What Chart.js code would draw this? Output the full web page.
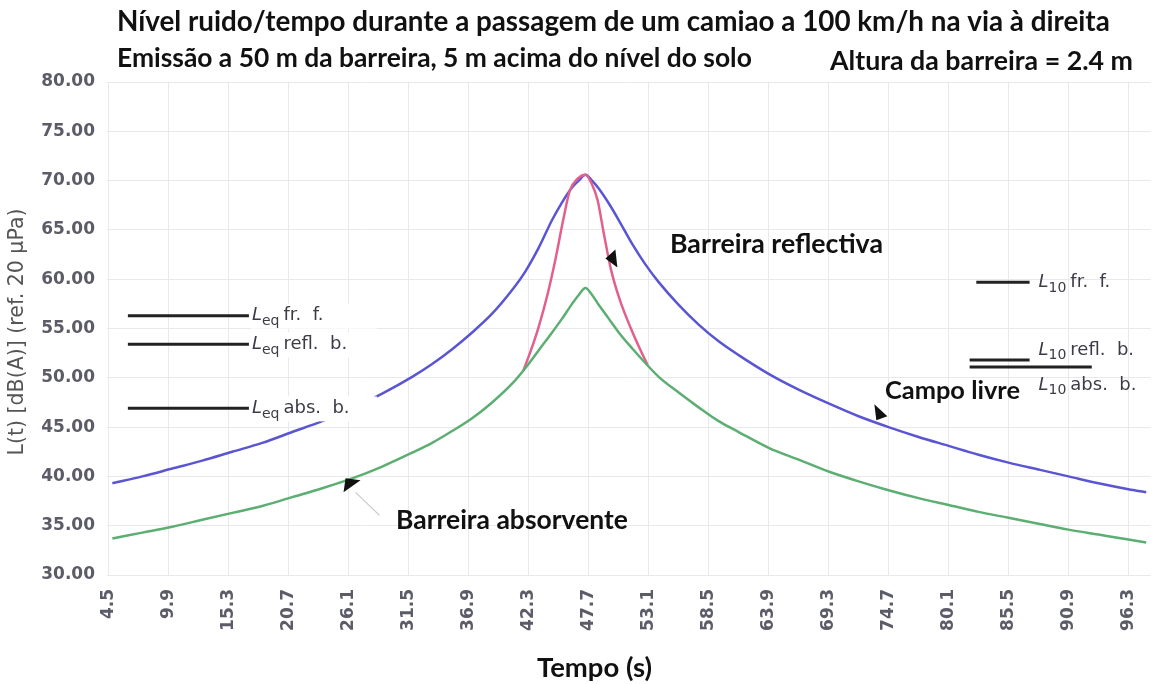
<!DOCTYPE html>
<html>
<head>
<meta charset="utf-8">
<script src="https://cdn.jsdelivr.net/npm/chart.js@4.4.1/dist/chart.umd.min.js"></script>
<style>
  html, body { margin: 0; padding: 0; background: #fff; }
</style>
</head>
<body>
<canvas id="chart-area" width="1163" height="684"></canvas>
<script>
// valores (tempo em s, niveis em dB(A))
var tempo = [4.8, 7.5, 10.2, 12.9, 15.6, 18.3, 21.0, 23.7, 26.4, 29.1,
             31.8, 33.6, 35.4, 37.2, 39.0, 40.8, 42.0, 43.2, 44.4, 45.3,
             46.2, 46.8, 47.4, 48.0, 48.6, 49.5, 50.4, 51.6, 52.8, 54.0,
             55.8, 57.6, 59.4, 61.2, 63.9, 66.6, 69.3, 72.0, 74.7, 77.4,
             80.1, 82.8, 85.5, 88.2, 90.9, 93.6, 96.3, 97.9];

var campoLivre = [39.3, 40.0, 40.8, 41.6, 42.5, 43.4, 44.5, 45.6, 46.9, 48.4,
                  50.1, 51.4, 52.9, 54.6, 56.5, 58.9, 60.8, 63.2, 66.0, 67.8,
                  69.3, 70.0, 70.6, 70.0, 69.2, 67.7, 66.0, 63.6, 61.5, 59.7,
                  57.4, 55.4, 53.7, 52.3, 50.4, 48.8, 47.4, 46.1, 45.0, 44.0,
                  43.1, 42.2, 41.4, 40.7, 40.0, 39.3, 38.7, 38.4];

var barreiraAbsorvente = [33.7, 34.3, 34.9, 35.6, 36.3, 37.0, 37.9, 38.8, 39.8, 41.0,
                          42.4, 43.4, 44.6, 45.9, 47.5, 49.4, 51.0, 52.8, 54.6, 56.0,
                          57.5, 58.4, 59.1, 58.4, 57.4, 56.0, 54.6, 53.0, 51.5, 50.1,
                          48.5, 47.0, 45.6, 44.5, 42.9, 41.7, 40.5, 39.5, 38.6, 37.8,
                          37.1, 36.4, 35.8, 35.2, 34.6, 34.1, 33.6, 33.3];

var tempoRefl = [41.8, 42.5, 43.2, 44.0, 44.7, 45.4, 46.0, 46.7, 47.4, 48.0,
                 48.5, 49.0, 49.7, 50.5, 51.5, 52.2, 53.0];
var barreiraReflectiva = [50.7, 52.8, 55.2, 58.5, 62.0, 66.0, 69.0, 70.2, 70.6, 69.6,
                          68.0, 65.0, 61.0, 57.9, 55.0, 53.2, 51.3];

var xTicks = [4.5, 9.9, 15.3, 20.7, 26.1, 31.5, 36.9, 42.3, 47.7, 53.1,
              58.5, 63.9, 69.3, 74.7, 80.1, 85.5, 90.9, 96.3];

// niveis equivalentes (esquerda) e L10 (direita)
var leqNomes = ["fr. f.", "refl. b.", "abs. b."];
var leqValores = [56.3, 53.4, 46.9];
var leqTempo = [6.2, 17.1];

var l10Nomes = ["fr. f.", "refl. b.", "abs. b."];
var l10Valores = [59.7, 51.8, 51.1];
var l10Inicio = [82.6, 82.0, 82.0];
var l10Fim = [87.4, 87.4, 93.0];

function pares(xs, ys) {
    return xs.map(function (x, i) { return { x: x, y: ys[i] }; });
}

var datasets = [];
for (var i = 0; i < leqValores.length; i++) {
    datasets.push({
        data: pares(leqTempo, [leqValores[i], leqValores[i]]),
        borderColor: "#222", borderWidth: 3, pointRadius: 0, order: 0
    });
}
for (var j = 0; j < l10Valores.length; j++) {
    datasets.push({
        data: pares([l10Inicio[j], l10Fim[j]], [l10Valores[j], l10Valores[j]]),
        borderColor: "#222", borderWidth: 3, pointRadius: 0, order: 0
    });
}
datasets.push({
    label: "Barreira absorvente",
    data: pares(tempo, barreiraAbsorvente),
    borderColor: "#5cae72", borderWidth: 2.5, pointRadius: 0,
    cubicInterpolationMode: "monotone", order: 1
});
datasets.push({
    label: "Barreira reflectiva",
    data: pares(tempoRefl, barreiraReflectiva),
    borderColor: "#e2608d", borderWidth: 2.5, pointRadius: 0,
    cubicInterpolationMode: "monotone", order: 2
});
datasets.push({
    label: "Campo livre",
    data: pares(tempo, campoLivre),
    borderColor: "#5a55d2", borderWidth: 2.5, pointRadius: 0,
    cubicInterpolationMode: "monotone", order: 3
});

function fitText(ctx, txt, x, y, w, font) {
    ctx.font = font.replace("{s}", "20");
    var s = 20 * w / ctx.measureText(txt).width;
    ctx.font = font.replace("{s}", s.toFixed(2));
    ctx.fillText(txt, x, y);
}

function rotulo(ctx, x, y, sub, resto, size) {
    ctx.textAlign = "left";
    ctx.textBaseline = "middle";
    ctx.font = "italic " + size + "px 'DejaVu Sans'";
    ctx.fillText("L", x, y);
    x += ctx.measureText("L").width;
    ctx.font = Math.round(size * 0.75) + "px 'DejaVu Sans'";
    ctx.fillText(sub, x, y + size * 0.32);
    x += ctx.measureText(sub).width + 4;
    ctx.font = size + "px 'DejaVu Sans'";
    ctx.fillText(resto.replace(" ", "  "), x, y);
}

function seta(ctx, tip, a, b) {
    ctx.beginPath();
    ctx.moveTo(tip[0], tip[1]);
    ctx.lineTo(tip[0] + a[0], tip[1] + a[1]);
    ctx.lineTo(tip[0] + b[0], tip[1] + b[1]);
    ctx.closePath();
    ctx.fill();
}

var textos = {
    id: "textos",
    afterDatasetsDraw: function (chart) {
        var ctx = chart.ctx, xs = chart.scales.x, ys = chart.scales.y;
        ctx.save();

        // rotulos Leq com caixa branca
        var xl = xs.getPixelForValue(leqTempo[1]);
        for (var i = 0; i < leqValores.length; i++) {
            var yl = ys.getPixelForValue(leqValores[i]);
            ctx.fillStyle = "#fff";
            ctx.fillRect(xl + 2, yl - 12, 126, 25);
            ctx.fillStyle = "#3c3c46";
            rotulo(ctx, xl + 3, yl, "eq", leqNomes[i], 18);
        }

        // rotulos L10
        var xr = xs.getPixelForValue(88.2);
        var dy = [0, -10, 18];
        for (var k = 0; k < l10Valores.length; k++) {
            ctx.fillStyle = "#3c3c46";
            rotulo(ctx, xr, ys.getPixelForValue(l10Valores[k]) + dy[k], "10", l10Nomes[k], 18);
        }

        // setas
        ctx.fillStyle = "#111";
        var p1 = [xs.getPixelForValue(49.2), ys.getPixelForValue(62.1)];
        seta(ctx, p1, [10, -9], [12, 9]);
        var p2 = [xs.getPixelForValue(73.6), ys.getPixelForValue(45.7)];
        seta(ctx, p2, [-2, -16], [11, -4]);
        var p3 = [xs.getPixelForValue(25.8), ys.getPixelForValue(39.8)];
        seta(ctx, p3, [15, 2], [-2, 14]);
        ctx.strokeStyle = "#c8c8c8";
        ctx.lineWidth = 1.2;
        ctx.beginPath();
        ctx.moveTo(p3[0] + 10, p3[1] + 14);
        ctx.lineTo(p3[0] + 34, p3[1] + 37);
        ctx.stroke();

        // titulos e legendas em texto
        ctx.fillStyle = "#111";
        ctx.textAlign = "left";
        ctx.textBaseline = "middle";
        var f = "bold {s}px Lato";
        fitText(ctx, "Nível ruido/tempo durante a passagem de um camiao a 100 km/h na via à direita", 117, 22, 993, f);
        fitText(ctx, "Emissão a 50 m da barreira, 5 m acima do nível do solo", 117, 58, 635, f);
        fitText(ctx, "Altura da barreira = 2.4 m", 830, 61, 303, f);
        fitText(ctx, "Barreira reflectiva", 670, 244, 213, f);
        fitText(ctx, "Campo livre", 885, 391, 135, f);
        fitText(ctx, "Barreira absorvente", 396, 520, 232, f);
        fitText(ctx, "Tempo (s)", 537, 668, 115, f);

        ctx.translate(18, 332);
        ctx.rotate(-Math.PI / 2);
        ctx.textAlign = "center";
        ctx.fillStyle = "#555";
        fitText(ctx, "L(t) [dB(A)] (ref. 20 μPa)", 0, 0, 247, "{s}px 'DejaVu Sans'");
        ctx.restore();
    }
};

var config = {
    type: "line",
    data: { datasets: datasets },
    options: {
        responsive: false,
        devicePixelRatio: 1,
        animation: false,
        layout: { padding: { top: 82, right: 8, left: 0, bottom: 0 } },
        plugins: { legend: { display: false }, tooltip: { enabled: false } },
        scales: {
            x: {
                type: "linear",
                min: 4.32,
                max: 98.3,
                afterBuildTicks: function (scale) {
                    scale.ticks = xTicks.map(function (v) { return { value: v }; });
                },
                afterFit: function (scale) { scale.height = 109; },
                grid: { color: "#e9e9ed", drawTicks: false },
                border: { display: false },
                ticks: {
                    autoSkip: false,
                    minRotation: 90,
                    maxRotation: 90,
                    padding: 14,
                    color: "#5c5c68",
                    font: { family: "DejaVu Sans", weight: "bold", size: 17 },
                    callback: function (v) { return Number(v).toFixed(1); }
                }
            },
            y: {
                min: 30,
                max: 80,
                afterFit: function (scale) { scale.width = 107; },
                grid: { color: "#e9e9ed", drawTicks: false },
                border: { display: false },
                ticks: {
                    stepSize: 5,
                    padding: 12,
                    color: "#5c5c68",
                    font: { family: "DejaVu Sans", weight: "bold", size: 17 },
                    callback: function (v) { return Number(v).toFixed(2); }
                }
            }
        }
    },
    plugins: [textos]
};

var ctx = document.getElementById("chart-area").getContext("2d");
window.myChart = new Chart(ctx, config);
</script>
</body>
</html>
